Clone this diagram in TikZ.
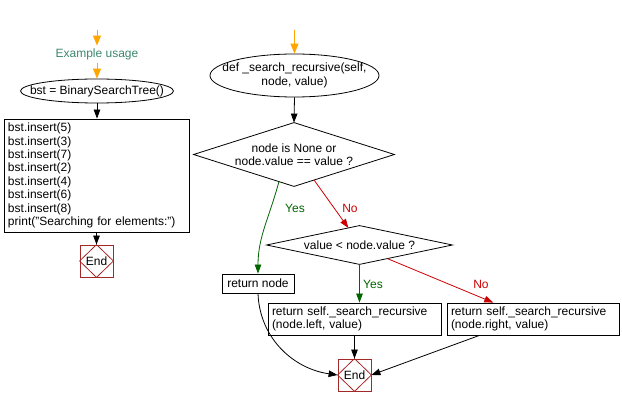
\documentclass[tikz,border=0pt]{standalone}
\usepackage{fontspec}
\setmainfont{Liberation Sans}
\usetikzlibrary{arrows.meta,calc,shapes.geometric}
\definecolor{orangeA}{RGB}{255,165,0}
\definecolor{yesgreen}{RGB}{0,100,0}
\definecolor{nored}{RGB}{204,0,0}
\definecolor{endred}{RGB}{165,40,40}
\definecolor{noteteal}{RGB}{60,135,110}
\begin{document}
\begin{tikzpicture}[x=1pt,y=-1pt,
  every node/.style={font=\fontsize{12}{13.4}\selectfont, inner sep=0pt},
  line width=0.8pt,
  flow/.style={draw=black, -{Triangle[length=9pt,width=6.5pt]}},
  orangeflow/.style={draw=orangeA, line width=1pt, -{Triangle[length=10pt,width=8pt]}},
  yesflow/.style={draw=yesgreen, -{Triangle[length=9pt,width=6.5pt]}},
  noflow/.style={draw=nored, -{Triangle[length=9pt,width=6.5pt]}},
  procbox/.style={draw, rectangle, align=left, inner xsep=4pt},
  ellbox/.style={draw, ellipse, inner sep=0pt},
  diabox/.style={rectangle, align=center},
  endbox/.style={draw=endred, rectangle, minimum width=33pt, minimum height=32pt},
  yeslab/.style={text=yesgreen},
  nolab/.style={text=nored}
]
\useasboundingbox (0,0) rectangle (622,406);

% ---------- left flow ----------
\coordinate (s1) at (97,30);
\node[text=noteteal, inner ysep=3pt] (ex) at (97,54.5) {Example usage};
\node[ellbox, minimum width=153pt, minimum height=24pt] (e1) at (97,91) {};
\node at (e1) {bst = BinarySearchTree()};
\node[procbox, minimum width=185pt, minimum height=113pt, text width=177pt] (b1) at (96.5,175.5)
  {bst.insert(5)\\bst.insert(3)\\bst.insert(7)\\bst.insert(2)\\bst.insert(4)\\bst.insert(6)\\bst.insert(8)\\print("Searching for elements:")};
\node[endbox] (end1) at (96.5,261) {End};
\draw[endred] (end1.west) -- (end1.north) -- (end1.east) -- (end1.south) -- cycle;

\draw[orangeflow] (s1) -- (ex.north);
\draw[orangeflow] (ex.south) -- (e1.north);
\draw[flow] (e1.south) -- (e1.south |- b1.north);
\draw[flow] (b1.south) -- (end1.north);

% ---------- right flow ----------
\coordinate (s2) at (294.5,30);
\node[ellbox, minimum width=169pt, minimum height=43pt] (e2) at (294.5,75.5) {};
\node[align=center] at (e2) {def \_search\_recursive(self,\\node, value)};
\node[diabox, minimum width=200pt, minimum height=63pt] (d1) at (294,154.5) {node is None or\\node.value == value ?};
\draw (d1.west) -- (d1.north) -- (d1.east) -- (d1.south) -- cycle;
\node[diabox, minimum width=185pt, minimum height=38pt] (d2) at (359.5,245) {value < node.value ?};
\draw (d2.west) -- (d2.north) -- (d2.east) -- (d2.south) -- cycle;
\node[procbox, minimum width=72pt, minimum height=19pt] (rn) at (258,283.5) {return node};
\node[procbox, minimum width=173pt, minimum height=32pt, text width=165pt] (rl) at (354.5,319)
  {return self.\_search\_recursive\\(node.left, value)};
\node[procbox, minimum width=172pt, minimum height=32pt, text width=164pt] (rr) at (533,319)
  {return self.\_search\_recursive\\(node.right, value)};
\node[endbox] (end2) at (354.5,375) {End};
\draw[endred] (end2.west) -- (end2.north) -- (end2.east) -- (end2.south) -- cycle;

\draw[orangeflow] (s2) -- (e2.north);
\draw[flow] (e2.south) -- (d1.north);
\draw[yesflow] ($(d1.south)!0.15!(d1.west)$) to[out=-105,in=90] (rn.north);
\node[yeslab] (y1) at (295,208) {Yes};
\draw[noflow] ($(d1.south)!0.2!(d1.east)$) -- ($(d2.north)!0.12!(d2.west)$);
\node[nolab] (n1) at (350,208) {No};
\draw[yesflow] (d2.south) -- (d2.south |- rl.north);
\node[yeslab] (y2) at (373,284) {Yes};
\draw[noflow] ($(d2.south)!0.3!(d2.east)$) -- ($(rr.north west)!0.27!(rr.north east)$);
\node[nolab] (n2) at (481,284) {No};
\draw[flow] (rn.south) to[out=-88,in=172] (end2.west);
\draw[flow] (rl.south) -- (end2.north);
\draw[flow] ($(rr.south west)!0.19!(rr.south east)$) -- (end2.east);
\end{tikzpicture}
\end{document}
